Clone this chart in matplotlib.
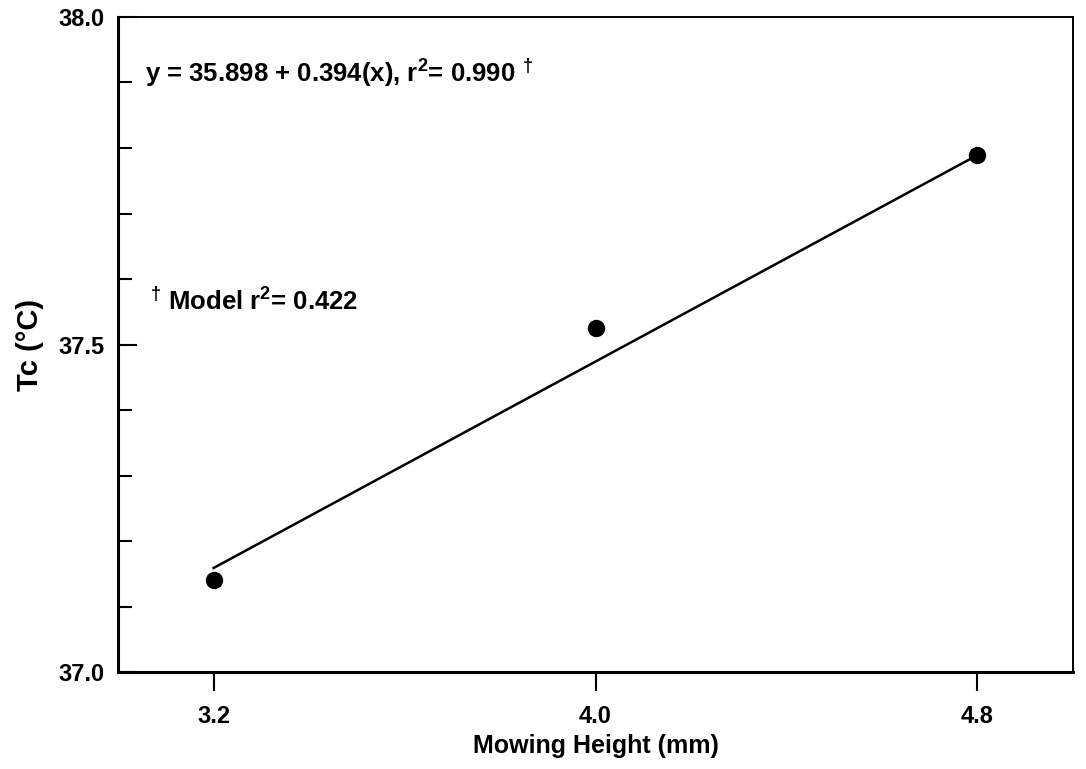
import matplotlib
matplotlib.use("Agg")
import matplotlib.pyplot as plt
from matplotlib.ticker import MultipleLocator
import numpy as np

plt.rcParams['font.family'] = ['Liberation Sans', 'DejaVu Sans']
plt.rcParams['font.weight'] = 'bold'
plt.rcParams['mathtext.fontset'] = 'custom'
plt.rcParams['mathtext.rm'] = 'Liberation Sans:bold'
plt.rcParams['mathtext.bf'] = 'Liberation Sans:bold'
plt.rcParams['mathtext.default'] = 'bf'

# Mowing height (mm) and canopy temperature Tc (°C)
mowing_height = [3.2, 4.0, 4.8]
tc_mean = [37.14, 37.525, 37.79]

# Fitted regression
intercept = 35.898
slope = 0.394
x_ticks = [3.2, 4.0, 4.8]
y_ticks = [37.0, 37.5, 38.0]

fig = plt.figure(figsize=(10.86, 7.69), dpi=100)
ax = fig.add_axes([0.1087, 0.1261, 0.8793, 0.8518])

xf = np.array([mowing_height[0], mowing_height[-1]])
ax.plot(xf, intercept + slope * xf, color='black', lw=1.8)
ax.plot(mowing_height, tc_mean, 'o', color='black', markersize=11.5)

ax.set_xlim(3.0, 5.0)
ax.set_ylim(37.0, 38.0)
ax.set_xticks(x_ticks)
ax.set_xticklabels([f"{v:.1f}" for v in x_ticks])
ax.set_yticks(y_ticks)
ax.set_yticklabels([f"{v:.1f}" for v in y_ticks])
ax.yaxis.set_minor_locator(MultipleLocator(0.1))

ax.tick_params(axis='y', which='major', direction='in', length=14, width=1.5,
               labelsize=17, pad=10)
ax.tick_params(axis='y', which='minor', direction='in', length=10, width=1.5)
ax.tick_params(axis='x', which='major', direction='out', length=14, width=1.5,
               labelsize=17, pad=10)
for lab in ax.get_xticklabels() + ax.get_yticklabels():
    lab.set_fontweight('bold')

for side in ['left', 'bottom']:
    ax.spines[side].set_linewidth(2.2)
for side in ['top', 'right']:
    ax.spines[side].set_linewidth(1.4)

ax.set_xlabel('Mowing Height (mm)', fontsize=18, fontweight='bold', labelpad=4)
ax.set_ylabel('Tc (°C)', fontsize=21, fontweight='bold', labelpad=10)

ax.text(3.057, 37.914, r'y = 35.898 + 0.394(x), r$^{2}$= 0.990 $^{\dagger}$',
        fontsize=18.5, fontweight='bold', va='center', ha='left')
ax.text(3.067, 37.565, r'$^{\dagger}$ Model r$^{2}$= 0.422',
        fontsize=18.5, fontweight='bold', va='center', ha='left')

fig.savefig('out.png', dpi=100)
